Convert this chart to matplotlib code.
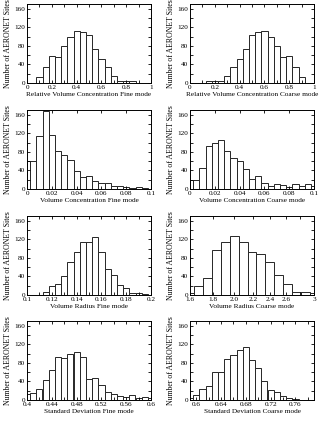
import numpy as np
import matplotlib
matplotlib.use('Agg')
import matplotlib.pyplot as plt
from matplotlib.ticker import MultipleLocator, NullLocator

plt.rcParams['font.family'] = ['Liberation Serif', 'DejaVu Serif']

# Histogram data (bin edges and number of sites)
rvc_fine_edges = [0.075, 0.125, 0.175, 0.225, 0.275, 0.325, 0.375, 0.425, 0.475,
                  0.525, 0.575, 0.625, 0.675, 0.725, 0.775, 0.825, 0.875]
rvc_fine_n = [12, 34, 59, 57, 79, 100, 112, 110, 104, 74, 51, 34, 16, 4, 4, 4]

rvc_coarse_edges = [0.125, 0.175, 0.225, 0.275, 0.325, 0.375, 0.425, 0.475, 0.525,
                    0.575, 0.625, 0.675, 0.725, 0.775, 0.825, 0.875, 0.925]
rvc_coarse_n = [4, 4, 4, 16, 34, 51, 74, 104, 110, 112, 100, 79, 57, 59, 34, 12]

vc_fine_edges = [0.0, 0.0025, 0.0075, 0.0125, 0.0175, 0.0225, 0.0275, 0.0325, 0.0375,
                 0.0425, 0.0475, 0.0525, 0.0575, 0.0625, 0.0675, 0.0725, 0.0775,
                 0.0825, 0.0875, 0.0925, 0.0975, 0.1]
vc_fine_n = [60, 60, 115, 167, 117, 82, 74, 62, 38, 25, 29, 18, 13, 13, 7, 7, 5, 2, 5, 2, 1]

vc_coarse_edges = vc_fine_edges
vc_coarse_n = [20, 20, 45, 92, 99, 105, 82, 66, 61, 42, 21, 28, 13, 6, 11, 8, 5, 10, 7, 11, 6]

vr_fine_edges = [0.1125, 0.1175, 0.1225, 0.1275, 0.1325, 0.1375, 0.1425, 0.1475, 0.1525,
                 0.1575, 0.1625, 0.1675, 0.1725, 0.1775, 0.1825, 0.1875, 0.1925, 0.1975, 0.2]
vr_fine_n = [7, 20, 23, 40, 70, 93, 115, 113, 125, 93, 57, 42, 22, 15, 5, 4, 3, 1]

# this panel has a log x axis, so the bins grow towards the right
vr_coarse_edges = [1.6, 1.636, 1.711, 1.790, 1.872, 1.958, 2.048, 2.142, 2.240,
                   2.343, 2.451, 2.563, 2.681, 2.804, 2.933, 3.0]
vr_coarse_n = [5, 20, 36, 96, 113, 128, 113, 93, 89, 72, 42, 24, 7, 6, 5]

sd_fine_edges = [0.4, 0.405, 0.415, 0.425, 0.435, 0.445, 0.455, 0.465, 0.475, 0.485,
                 0.495, 0.505, 0.515, 0.525, 0.535, 0.545, 0.555, 0.565, 0.575,
                 0.585, 0.595, 0.6]
sd_fine_n = [12, 16, 24, 44, 64, 92, 91, 99, 104, 93, 45, 47, 32, 18, 13, 9, 7, 10, 5, 6, 4]

sd_coarse_edges = [0.59, 0.595, 0.605, 0.615, 0.625, 0.635, 0.645, 0.655, 0.665, 0.675,
                   0.685, 0.695, 0.705, 0.715, 0.725, 0.735, 0.745, 0.755, 0.765, 0.775]
sd_coarse_n = [5, 11, 24, 30, 60, 60, 88, 96, 108, 114, 87, 68, 41, 22, 17, 8, 5, 2, 1]

# tick labels of each panel ('' = tick without a label)
rvc_ticks = ['0', '0.2', '0.4', '0.6', '0.8', '1']
vc_ticks = ['0', '0.02', '0.04', '0.06', '0.08', '0.1']
vr_fine_ticks = ['0.1', '0.12', '0.14', '0.16', '0.18', '0.2']
vr_coarse_tickpos = [1.6, 1.8, 2.0, 2.2, 2.4, 2.6, 2.8, 3.0]
vr_coarse_ticks = ['1.6', '1.8', '2.0', '2.2', '2.4', '2.6', '', '3']
sd_fine_ticks = ['0.4', '0.44', '0.48', '0.52', '0.56', '0.6']
sd_coarse_ticks = ['0.6', '0.64', '0.68', '0.72', '0.76']

# panel settings: edges, counts, x range, tick positions, tick labels, minor step, x label
panels = [
    (rvc_fine_edges, rvc_fine_n, (0, 1), None, rvc_ticks, 0.1, 'Relative Volume Concentration Fine mode'),
    (rvc_coarse_edges, rvc_coarse_n, (0, 1), None, rvc_ticks, 0.1, 'Relative Volume Concentration Coarse mode'),
    (vc_fine_edges, vc_fine_n, (0, 0.1), None, vc_ticks, 0.02, 'Volume Concentration Fine mode'),
    (vc_coarse_edges, vc_coarse_n, (0, 0.1), None, vc_ticks, 0.02, 'Volume Concentration Coarse mode'),
    (vr_fine_edges, vr_fine_n, (0.1, 0.2), None, vr_fine_ticks, 0.01, 'Volume Radius Fine mode'),
    (vr_coarse_edges, vr_coarse_n, (1.6, 3.0), vr_coarse_tickpos, vr_coarse_ticks, None, 'Volume Radius Coarse mode'),
    (sd_fine_edges, sd_fine_n, (0.4, 0.6), None, sd_fine_ticks, 0.02, 'Standard Deviation Fine mode'),
    (sd_coarse_edges, sd_coarse_n, (0.59, 0.79), None, sd_coarse_ticks, 0.02, 'Standard Deviation Coarse mode'),
]

fig = plt.figure(figsize=(3.2, 4.23), dpi=100)

col_left = [27/320, 190/320]
row_bottom = [1-83/423, 1-189/423, 1-295/423, 1-400/423]
ax_w = 124/320
ax_h = 79/423

for i, (edges, n, xlim, tickpos, ticks, minor, xlabel) in enumerate(panels):
    r, c = divmod(i, 2)
    ax = fig.add_axes([col_left[c], row_bottom[r], ax_w, ax_h])
    if minor is None:
        ax.set_xscale('log')
    ax.bar(edges[:-1], n, width=np.diff(edges), align='edge',
           color='white', edgecolor='#262626', linewidth=0.7)
    ax.set_xlim(*xlim)
    ax.set_ylim(0, 170)

    # labelled ticks plus the extra unlabelled ones
    if tickpos is None:
        tickpos = [float(t) for t in ticks]
    ax.set_xticks(tickpos)
    ax.set_xticklabels(ticks)
    if minor is None:
        ax.xaxis.set_minor_locator(NullLocator())
    else:
        ax.xaxis.set_minor_locator(MultipleLocator(minor))
    ax.yaxis.set_major_locator(MultipleLocator(40))
    ax.yaxis.set_minor_locator(MultipleLocator(20))

    ax.tick_params(which='both', direction='in', top=True, right=True,
                   length=2.5, width=0.6, labelsize=5.2, pad=1.5)
    for s in ax.spines.values():
        s.set_linewidth(0.7)
    ax.set_xlabel(xlabel, fontsize=5.2, labelpad=1.5)
    ax.set_ylabel('Number of AERONET Sites', fontsize=5.6, labelpad=1.5)

fig.savefig('out.png', dpi=100)
